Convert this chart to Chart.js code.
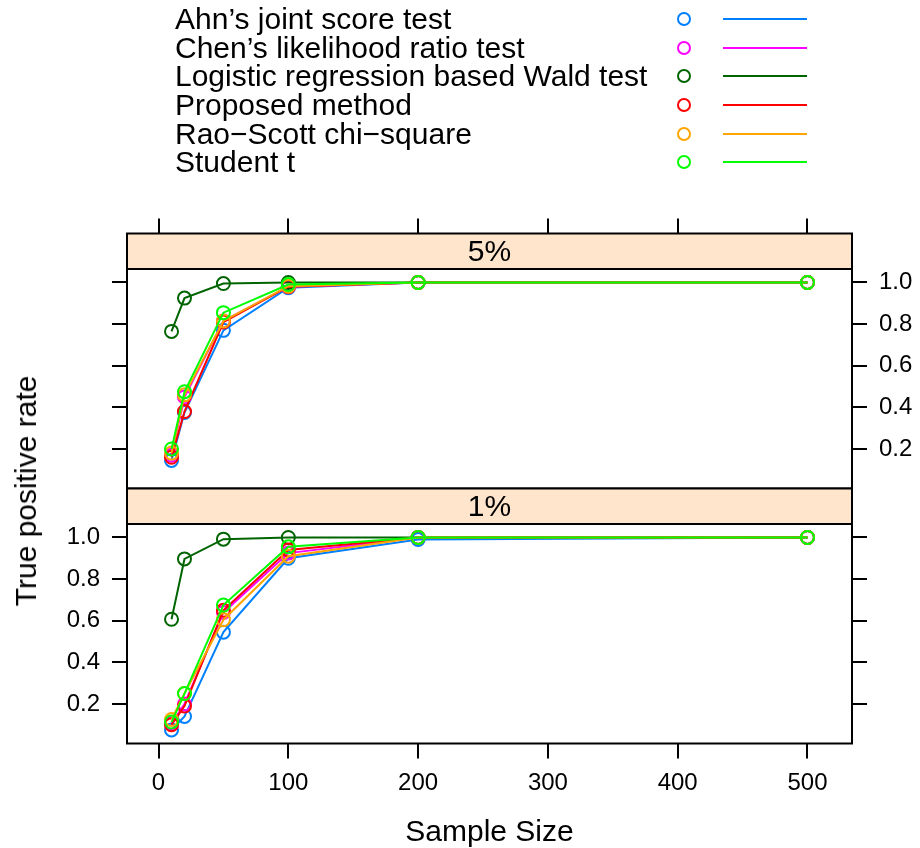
<!DOCTYPE html>
<html>
<head>
<meta charset="utf-8">
<script src="https://cdn.jsdelivr.net/npm/chart.js@4.4.1/dist/chart.umd.min.js"></script>
<style>
body { margin: 0; background: #fff; }
#wrap { position: relative; width: 920px; height: 848px; overflow: hidden; font-family: "Liberation Sans", Arial, sans-serif; color: #000; }
canvas { position: absolute; left: 0; top: 0; }
.lab { position: absolute; white-space: nowrap; line-height: 1; }
.keytext { left: 175px; font-size: 30px; transform: translateY(-50%); }
.keydot { position: absolute; width: 10px; height: 10px; border: 2px solid; border-radius: 50%; transform: translate(-50%, -50%); }
.keyline { position: absolute; height: 0; border-top: 2px solid; transform: translateY(-50%); }
</style>
</head>
<body>
<div id="wrap">
  <canvas id="top5" width="920" height="848"></canvas>
  <canvas id="bot1" width="920" height="848"></canvas>
  <div id="key"></div>
  <div class="lab" style="left:489.5px; top:831px; font-size:30px; transform:translate(-50%,-50%);">Sample Size</div>
  <div class="lab" style="left:26px; top:491px; font-size:30px; transform:translate(-50%,-50%) rotate(-90deg);">True positive rate</div>
</div>
<script>
const sampleSizes = [10, 20, 50, 100, 200, 500];
const methods = ["Ahn’s joint score test", "Chen’s likelihood ratio test", "Logistic regression based Wald test",
                 "Proposed method", "Rao−Scott chi−square", "Student t"];
const colors = ["#0080ff", "#ff00ff", "#006400", "#ff0000", "#ffa500", "#00ff00"];

// panel "5%"
const ahn5  = [0.145, 0.375, 0.77, 0.975, 1, 1];
const chen5 = [0.17, 0.45, 0.815, 0.98, 1, 1];
const wald5 = [0.765, 0.925, 0.995, 1, 1, 1];
const prop5 = [0.16, 0.38, 0.81, 0.98, 1, 1];
const rao5  = [0.18, 0.46, 0.815, 0.982, 1, 1];
const stud5 = [0.2, 0.475, 0.855, 0.99, 1, 1];

// panel "1%"
const ahn1  = [0.075, 0.14, 0.545, 0.9, 0.99, 1];
const chen1 = [0.105, 0.2, 0.64, 0.925, 1, 1];
const wald1 = [0.607, 0.897, 0.992, 1, 1, 1];
const prop1 = [0.1, 0.19, 0.65, 0.94, 1, 1];
const rao1  = [0.125, 0.25, 0.605, 0.91, 1, 1];
const stud1 = [0.113, 0.25, 0.675, 0.955, 1, 1];

const xTicks = [0, 100, 200, 300, 400, 500];
const yTicks = [0.2, 0.4, 0.6, 0.8, 1.0];

// axis limits (lattice pads the data range by 7%)
const xMin = -24.3, xMax = 534.3;
const yMin = 0.0099, yMax = 1.0648;
const stripH = 35.5, panelH = 219.5;
const yTop = yMax + (yMax - yMin) * stripH / panelH; // room for the strip inside the chart area

const font = { family: "'Liberation Sans', Arial, sans-serif", size: 24 };

// legend
const key = document.getElementById("key");
methods.forEach((m, i) => {
    const cy = 19.25 + 28.6 * i;
    key.insertAdjacentHTML("beforeend",
        `<div class="lab keytext" style="top:${cy}px">${m}</div>` +
        `<div class="keydot" style="left:684px; top:${cy}px; border-color:${colors[i]}"></div>` +
        `<div class="keyline" style="left:723px; width:84px; top:${cy}px; border-color:${colors[i]}"></div>`);
});

const stripPlugin = {
    id: "strip",
    beforeDatasetsDraw(chart, args, opts) {
        const a = chart.chartArea;
        const ctx = chart.ctx;
        ctx.save();
        ctx.fillStyle = "#ffe5cc";
        ctx.fillRect(a.left, a.top, a.right - a.left, stripH);
        ctx.strokeStyle = "#000";
        ctx.lineWidth = 2;
        ctx.strokeRect(a.left, a.top, a.right - a.left, a.bottom - a.top);
        ctx.beginPath();
        ctx.moveTo(a.left, a.top + stripH);
        ctx.lineTo(a.right, a.top + stripH);
        ctx.stroke();
        ctx.fillStyle = "#000";
        ctx.font = "30px 'Liberation Sans', Arial, sans-serif";
        ctx.textAlign = "center";
        ctx.textBaseline = "middle";
        ctx.fillText(opts.label, (a.left + a.right) / 2, a.top + stripH / 2 + 1);
        ctx.restore();
    }
};

function makeSets(series) {
    return series.map((vals, i) => ({
        label: methods[i],
        data: sampleSizes.map((n, j) => ({ x: n, y: vals[j] })),
        borderColor: colors[i],
        backgroundColor: "rgba(0,0,0,0)",
        borderWidth: 2,
        pointRadius: 6.5,
        pointBorderWidth: 2,
        pointBackgroundColor: "rgba(0,0,0,0)",
        pointBorderColor: colors[i],
        tension: 0,
        order: series.length - i
    }));
}

function tickGrid(show) {
    return { display: show, drawOnChartArea: false, drawTicks: true, tickLength: 15, color: "#000", lineWidth: 2 };
}

function yScale(position, labels, width) {
    return {
        type: "linear", position: position, min: yMin, max: yTop,
        border: { display: false },
        grid: tickGrid(true),
        afterBuildTicks: s => { s.ticks = yTicks.map(v => ({ value: v })); },
        afterFit: s => { s.width = width; },
        ticks: { display: labels, font: font, color: "#000", padding: 12, callback: v => v.toFixed(1) }
    };
}

function drawPanel(id, label, series, isTop) {
    const xs = {
        type: "linear", position: isTop ? "top" : "bottom", min: xMin, max: xMax,
        border: { display: false },
        grid: tickGrid(true),
        afterBuildTicks: s => { s.ticks = xTicks.map(v => ({ value: v })); },
        afterFit: s => { s.height = isTop ? 233.5 : 848 - 743.5; },
        ticks: { display: !isTop, font: font, color: "#000", padding: 10, maxRotation: 0 }
    };
    new Chart(document.getElementById(id), {
        type: "line",
        data: { datasets: makeSets(series) },
        options: {
            responsive: false,
            animation: false,
            devicePixelRatio: 1,
            layout: { padding: isTop ? { top: 0, bottom: 848 - 488.5, left: 0, right: 0 }
                                     : { top: 488.5, bottom: 0, left: 0, right: 0 } },
            plugins: { legend: { display: false }, tooltip: { enabled: false }, strip: { label: label } },
            scales: {
                x: xs,
                y: yScale("left", !isTop, 127),
                y2: yScale("right", isTop, 920 - 852)
            }
        },
        plugins: [stripPlugin]
    });
}

drawPanel("top5", "5%", [ahn5, chen5, wald5, prop5, rao5, stud5], true);
drawPanel("bot1", "1%", [ahn1, chen1, wald1, prop1, rao1, stud1], false);
</script>
</body>
</html>
